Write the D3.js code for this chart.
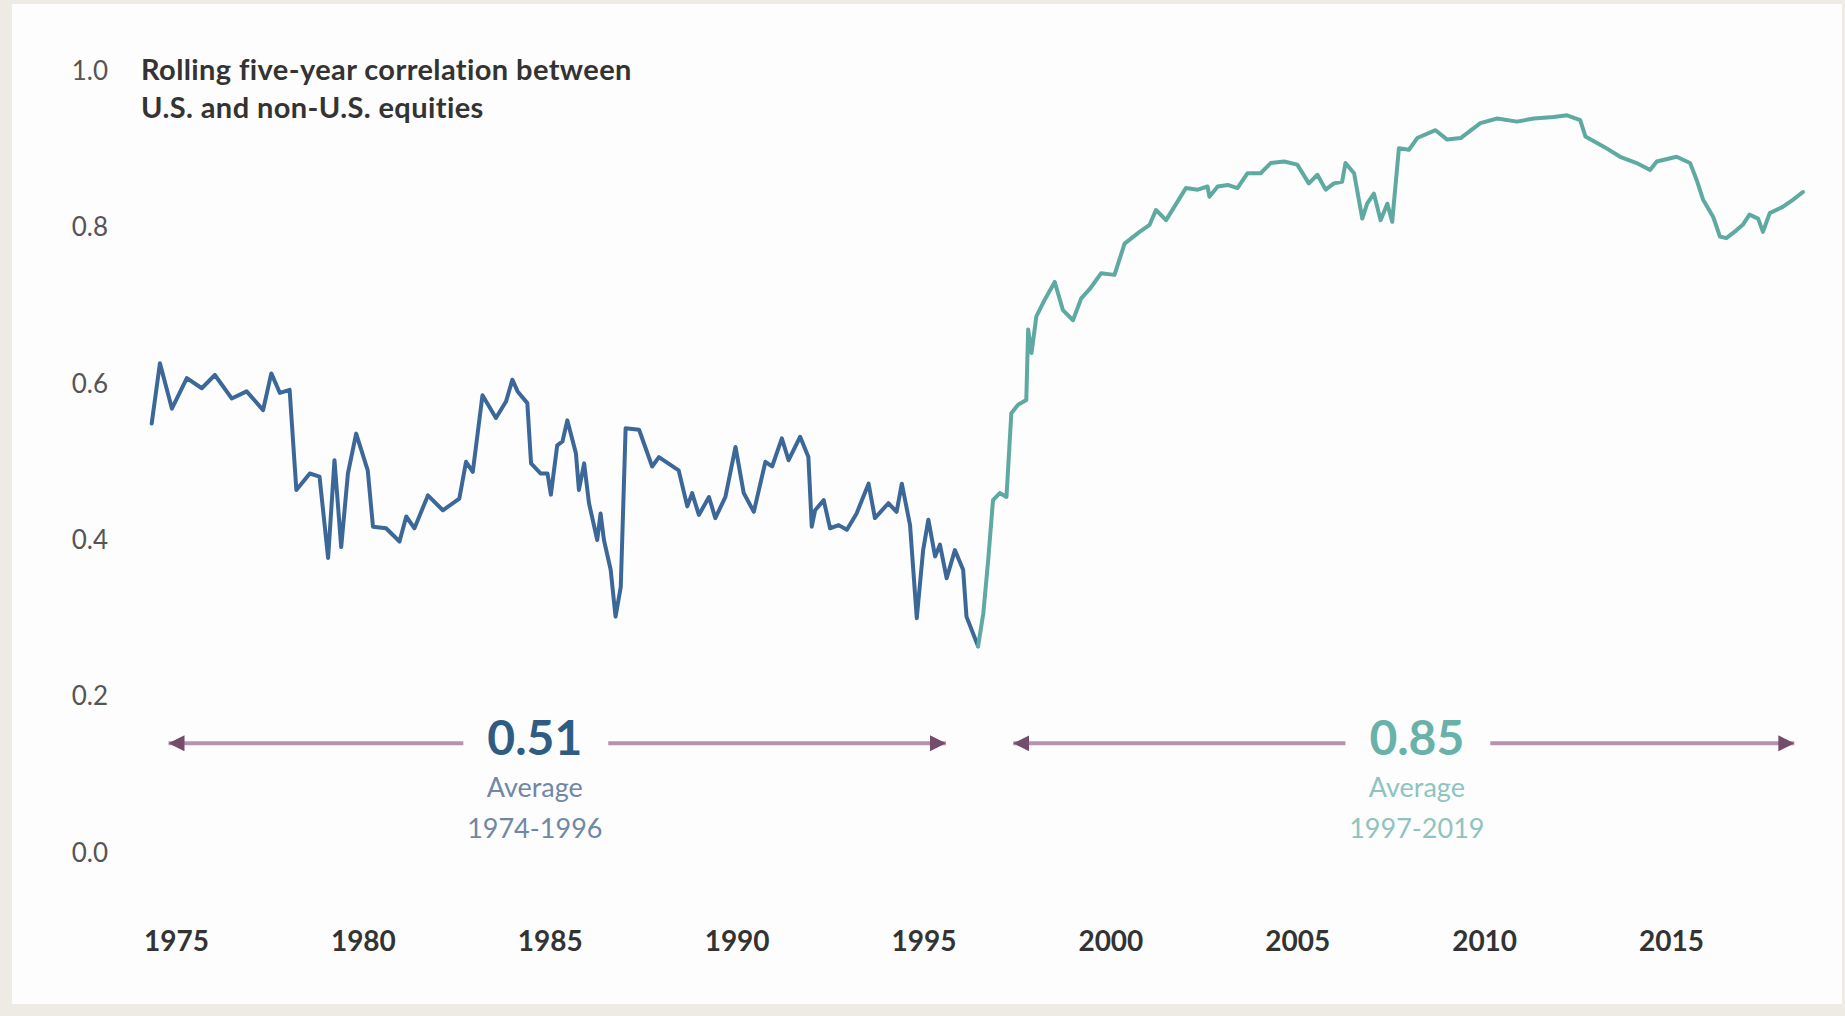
<!DOCTYPE html>
<html>
<head>
<meta charset="utf-8">
<script src="https://cdn.jsdelivr.net/npm/d3@7"></script>
<style>
  html, body { margin: 0; padding: 0; background: #eeebe4; }
  svg { display: block; }
</style>
</head>
<body>
<svg id="chart" width="1845" height="1016"></svg>
<script>
// Rolling five-year correlation, U.S. vs non-U.S. equities (decimal years)
const years = [
  1974.35, 1974.57, 1974.89, 1975.29, 1975.69, 1976.04, 1976.49, 1976.89, 1977.33, 1977.55,
  1977.78, 1978.04, 1978.22, 1978.58, 1978.84, 1979.07, 1979.24, 1979.42, 1979.60, 1979.82,
  1980.13, 1980.27, 1980.62, 1980.98, 1981.16, 1981.38, 1981.74, 1982.14, 1982.58, 1982.76,
  1982.94, 1983.20, 1983.56, 1983.83, 1984.00, 1984.14, 1984.40, 1984.50, 1984.76, 1984.94,
  1985.03, 1985.20, 1985.34, 1985.47, 1985.70, 1985.78, 1985.92, 1986.05, 1986.27, 1986.36,
  1986.45, 1986.63, 1986.76, 1986.90, 1987.03, 1987.39, 1987.74, 1987.92, 1988.45, 1988.68,
  1988.81, 1988.99, 1989.26, 1989.43, 1989.70, 1989.97, 1990.19, 1990.46, 1990.77, 1990.95,
  1991.21, 1991.39, 1991.70, 1991.92, 1992.01, 1992.10, 1992.33, 1992.50, 1992.73, 1992.95,
  1993.21, 1993.53, 1993.70, 1994.06, 1994.28, 1994.42, 1994.64, 1994.82, 1994.99, 1995.13,
  1995.31, 1995.44, 1995.62, 1995.84, 1996.06, 1996.15, 1996.46, 1996.60, 1996.73, 1996.86,
  1997.04, 1997.22, 1997.35, 1997.53, 1997.75, 1997.80, 1997.89, 1998.02, 1998.24, 1998.51,
  1998.73, 1999.00, 1999.22, 1999.45, 1999.75, 2000.11, 2000.38, 2000.78, 2001.05, 2001.22,
  2001.49, 2001.71, 2002.02, 2002.34, 2002.60, 2002.65, 2002.87, 2003.14, 2003.40, 2003.67,
  2004.02, 2004.29, 2004.65, 2005.00, 2005.31, 2005.54, 2005.76, 2005.98, 2006.20, 2006.29,
  2006.52, 2006.74, 2006.87, 2007.05, 2007.23, 2007.41, 2007.54, 2007.72, 2007.99, 2008.21,
  2008.70, 2009.01, 2009.37, 2009.90, 2010.35, 2010.88, 2011.33, 2011.86, 2012.22, 2012.57,
  2012.71, 2013.20, 2013.64, 2014.08, 2014.44, 2014.62, 2015.15, 2015.51, 2015.69, 2015.86,
  2016.13, 2016.31, 2016.48, 2016.75, 2016.92, 2017.10, 2017.33, 2017.46, 2017.64, 2017.99,
  2018.26, 2018.53
];
const correlation = [
  0.548, 0.625, 0.567, 0.606, 0.593, 0.610, 0.580, 0.589, 0.565, 0.612,
  0.587, 0.591, 0.463, 0.484, 0.480, 0.376, 0.501, 0.390, 0.484, 0.535,
  0.488, 0.416, 0.414, 0.397, 0.429, 0.414, 0.456, 0.437, 0.452, 0.499,
  0.486, 0.584, 0.555, 0.576, 0.604, 0.589, 0.574, 0.497, 0.484, 0.484,
  0.457, 0.520, 0.525, 0.552, 0.510, 0.463, 0.497, 0.446, 0.399, 0.433,
  0.399, 0.361, 0.301, 0.339, 0.542, 0.540, 0.493, 0.505, 0.488, 0.442,
  0.459, 0.431, 0.454, 0.427, 0.454, 0.518, 0.459, 0.435, 0.499, 0.493,
  0.529, 0.501, 0.531, 0.505, 0.416, 0.437, 0.450, 0.414, 0.418, 0.412,
  0.433, 0.471, 0.427, 0.446, 0.435, 0.471, 0.418, 0.299, 0.386, 0.425,
  0.378, 0.393, 0.350, 0.386, 0.361, 0.301, 0.263, 0.305, 0.373, 0.450,
  0.459, 0.454, 0.561, 0.572, 0.578, 0.668, 0.638, 0.685, 0.706, 0.729,
  0.693, 0.680, 0.708, 0.720, 0.740, 0.738, 0.778, 0.793, 0.802, 0.821,
  0.808, 0.825, 0.849, 0.847, 0.851, 0.838, 0.851, 0.853, 0.849, 0.868,
  0.868, 0.881, 0.883, 0.879, 0.855, 0.866, 0.847, 0.855, 0.857, 0.881,
  0.868, 0.810, 0.829, 0.842, 0.808, 0.829, 0.806, 0.900, 0.898, 0.913,
  0.923, 0.911, 0.913, 0.932, 0.938, 0.934, 0.938, 0.940, 0.942, 0.936,
  0.915, 0.902, 0.889, 0.881, 0.872, 0.883, 0.889, 0.881, 0.859, 0.834,
  0.812, 0.787, 0.785, 0.795, 0.802, 0.815, 0.810, 0.793, 0.817, 0.825,
  0.834, 0.844
];

// Era boundary: the series changes colour at the 1996 low
const eraSplitYear = 1996.46;

// Axis ticks
const xTickYears = [1975, 1980, 1985, 1990, 1995, 2000, 2005, 2010, 2015];
const yTickValues = [0.0, 0.2, 0.4, 0.6, 0.8, 1.0];

// Period averages drawn as double-headed arrows
const periodAverages = [0.51, 0.85];
const periodRanges = ["1974-1996", "1997-2019"];
const arrowStartYears = [1974.8, 1997.4];
const arrowEndYears = [1995.6, 2018.3];
const labelCenterYears = [1984.6, 2008.2];
const arrowLevel = 0.139;

const titleLines = ["Rolling five-year correlation between", "U.S. and non-U.S. equities"];

const svg = d3.select("#chart");

// Card background
svg.append("rect")
  .attr("x", 12).attr("y", 4)
  .attr("width", 1830).attr("height", 1000)
  .attr("fill", "#fdfdfd");

const x = d3.scaleLinear().domain([1975, 2015]).range([176, 1671]);
const y = d3.scaleLinear().domain([0, 1]).range([852, 70]);

const FONT = "Lato, 'Open Sans', sans-serif";

// Y axis labels (no axis line)
const yAxis = d3.axisLeft(y).tickValues(yTickValues).tickFormat(d3.format(".1f")).tickSize(0).tickPadding(0);
const yG = svg.append("g").attr("transform", "translate(108,0)").call(yAxis);
yG.select(".domain").remove();
yG.selectAll("text")
  .attr("dy", "0.36em")
  .attr("fill", "#555")
  .style("font-family", FONT)
  .style("font-size", "26px")
  .style("font-weight", 400);

// X axis labels (no axis line)
const xAxis = d3.axisBottom(x).tickValues(xTickYears).tickFormat(d3.format("d")).tickSize(0).tickPadding(0);
const xG = svg.append("g").attr("transform", "translate(0,941)").call(xAxis);
xG.select(".domain").remove();
xG.selectAll("text")
  .attr("dy", "0.36em")
  .attr("fill", "#333")
  .style("font-family", FONT)
  .style("font-size", "28px")
  .style("font-weight", 700);

// Title beside the top tick
const title = svg.append("text")
  .attr("x", 141)
  .attr("y", y(1.0))
  .attr("fill", "#333")
  .style("font-family", FONT)
  .style("font-size", "29px")
  .style("letter-spacing", "0.4px")
  .style("font-weight", 700);
titleLines.forEach((t, i) => {
  title.append("tspan")
    .attr("x", 141)
    .attr("dy", i === 0 ? "0.36em" : "1.3em")
    .text(t);
});

// Series
const points = years.map((yr, i) => ({ year: yr, value: correlation[i] }));
const line = d3.line().x(d => x(d.year)).y(d => y(d.value));

const earlyEra = points.filter(d => d.year <= eraSplitYear);
const lateEra = points.filter(d => d.year >= eraSplitYear);

svg.append("path")
  .datum(earlyEra)
  .attr("d", line)
  .attr("fill", "none")
  .attr("stroke", "#3b6898")
  .attr("stroke-width", 4)
  .attr("stroke-linejoin", "round")
  .attr("stroke-linecap", "round");

svg.append("path")
  .datum(lateEra)
  .attr("d", line)
  .attr("fill", "none")
  .attr("stroke", "#5ea9a1")
  .attr("stroke-width", 4)
  .attr("stroke-linejoin", "round")
  .attr("stroke-linecap", "round");

// Arrowhead marker
const defs = svg.append("defs");
defs.append("marker")
  .attr("id", "head-end")
  .attr("viewBox", "0 0 10 10")
  .attr("refX", 10).attr("refY", 5)
  .attr("markerWidth", 4).attr("markerHeight", 4)
  .attr("markerUnits", "strokeWidth")
  .attr("orient", "auto")
  .append("path").attr("d", "M0,0L10,5L0,10Z").attr("fill", "#744d6c");

const numberColors = ["#2f5c82", "#68b2aa"];
const noteColors = ["#7088a6", "#8ec4bf"];
const ay = y(arrowLevel);

periodAverages.forEach((avg, i) => {
  const cx = x(labelCenterYears[i]);
  const g = svg.append("g");

  const num = g.append("text")
    .attr("x", cx).attr("y", ay + 12)
    .attr("text-anchor", "middle")
    .attr("fill", numberColors[i])
    .style("font-family", FONT)
    .style("font-size", "48px")
    .style("font-weight", 700)
    .text(d3.format(".2f")(avg));

  g.append("text")
    .attr("x", cx).attr("y", ay + 54)
    .attr("text-anchor", "middle")
    .attr("fill", noteColors[i])
    .style("font-family", FONT)
    .style("font-size", "27px")
    .style("font-weight", 400)
    .text("Average");

  g.append("text")
    .attr("x", cx).attr("y", ay + 95)
    .attr("text-anchor", "middle")
    .attr("fill", noteColors[i])
    .style("font-family", FONT)
    .style("font-size", "27px")
    .style("font-weight", 400)
    .text(periodRanges[i]);

  const bb = num.node().getBBox();
  const gapL = bb.x - 24;
  const gapR = bb.x + bb.width + 26;

  g.append("line")
    .attr("x1", gapL).attr("x2", x(arrowStartYears[i]))
    .attr("y1", ay).attr("y2", ay)
    .attr("stroke", "#b592ad")
    .attr("stroke-width", 4)
    .attr("marker-end", "url(#head-end)");

  g.append("line")
    .attr("x1", gapR).attr("x2", x(arrowEndYears[i]))
    .attr("y1", ay).attr("y2", ay)
    .attr("stroke", "#b592ad")
    .attr("stroke-width", 4)
    .attr("marker-end", "url(#head-end)");
});
</script>
</body>
</html>
